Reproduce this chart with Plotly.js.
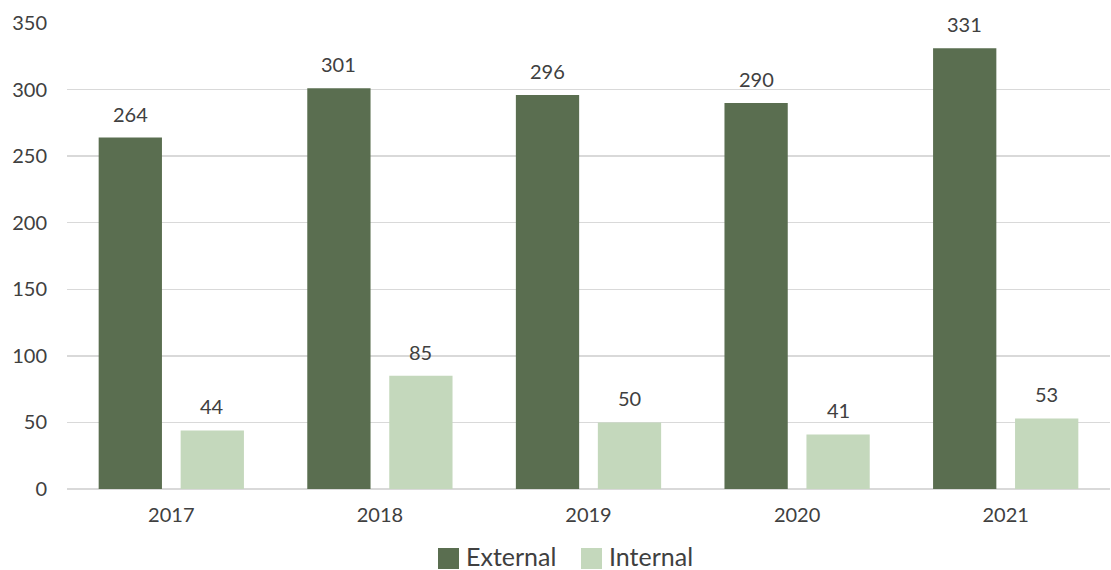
<!DOCTYPE html>
<html>
<head>
<meta charset="utf-8">
<script src="https://cdn.plot.ly/plotly-3.0.1.min.js"></script>
<style>
  html, body { margin: 0; padding: 0; background: #fff; }
  #chart { width: 1111px; height: 570px; }
</style>
</head>
<body>
<div id="chart"></div>
<script>
// Yearly counts split by source
const years = ['2017', '2018', '2019', '2020', '2021'];
const external = [264, 301, 296, 290, 331];
const internal = [44, 85, 50, 41, 53];
const seriesNames = ['External', 'Internal'];
const yTicks = [0, 50, 100, 150, 200, 250, 300, 350];

const darkGreen = '#5a6e50';
const lightGreen = '#c4d8bc';
const font = 'Lato, "Open Sans", sans-serif';
const textColor = '#404040';

const traces = [
  { type: 'bar', name: seriesNames[0], x: years, y: external,
    marker: { color: darkGreen }, hoverinfo: 'none', showlegend: false },
  { type: 'bar', name: seriesNames[1], x: years, y: internal,
    marker: { color: lightGreen }, hoverinfo: 'none', showlegend: false }
];

// Value labels above each bar, placed at the bar's own slot offset
const slotOffset = 0.197;
const annotations = [];
[external, internal].forEach((series, s) => {
  series.forEach((v, i) => {
    annotations.push({
      xref: 'x', yref: 'y',
      x: i + (s === 0 ? -slotOffset : slotOffset), y: v,
      text: String(v), showarrow: false,
      yanchor: 'middle', yshift: 24,
      font: { family: font, size: 20, color: textColor }
    });
  });
});

// Legend row beneath the axis: large square swatches with names
const plotW = 1043, plotH = 466, zeroY = 489, plotL = 67;
const swatchColors = [darkGreen, lightGreen];
const legendStarts = [438, 581];   // px from left edge
const shapes = [];
seriesNames.forEach((name, k) => {
  const x0 = legendStarts[k];
  shapes.push({
    type: 'rect', xref: 'paper', yref: 'paper',
    x0: (x0 - plotL) / plotW, x1: (x0 + 21 - plotL) / plotW,
    y0: -(569 - zeroY) / plotH, y1: -(548 - zeroY) / plotH,
    fillcolor: swatchColors[k], line: { width: 0 }
  });
  annotations.push({
    xref: 'paper', yref: 'paper',
    x: (x0 + 26 - plotL) / plotW, y: -(556 - zeroY) / plotH,
    xanchor: 'left', yanchor: 'middle', showarrow: false,
    text: name, font: { family: font, size: 25, color: textColor }
  });
});

const layout = {
  width: 1111, height: 570,
  margin: { l: plotL, r: 1, t: 23, b: 81 },
  paper_bgcolor: '#fff', plot_bgcolor: '#fff',
  barmode: 'group', bargap: 0.214, bargroupgap: 0.228,
  showlegend: false,
  xaxis: {
    type: 'category', categoryorder: 'array', categoryarray: years,
    showgrid: false, zeroline: false, showline: false, ticks: '',
    ticklabelstandoff: 12,
    tickfont: { family: font, size: 20, color: textColor }
  },
  yaxis: {
    range: [0, 350], tickmode: 'array', tickvals: yTicks,
    ticktext: yTicks.map(String),
    showgrid: true, gridcolor: '#d9d9d9', gridwidth: 1.5,
    zeroline: true, zerolinecolor: '#d9d9d9', zerolinewidth: 1.5,
    showline: false, ticks: '', ticklabelstandoff: 19,
    tickfont: { family: font, size: 20, color: textColor }
  },
  shapes: shapes,
  annotations: annotations,
  font: { family: font }
};

Plotly.newPlot('chart', traces, layout, { staticPlot: true, displayModeBar: false });
</script>
</body>
</html>
